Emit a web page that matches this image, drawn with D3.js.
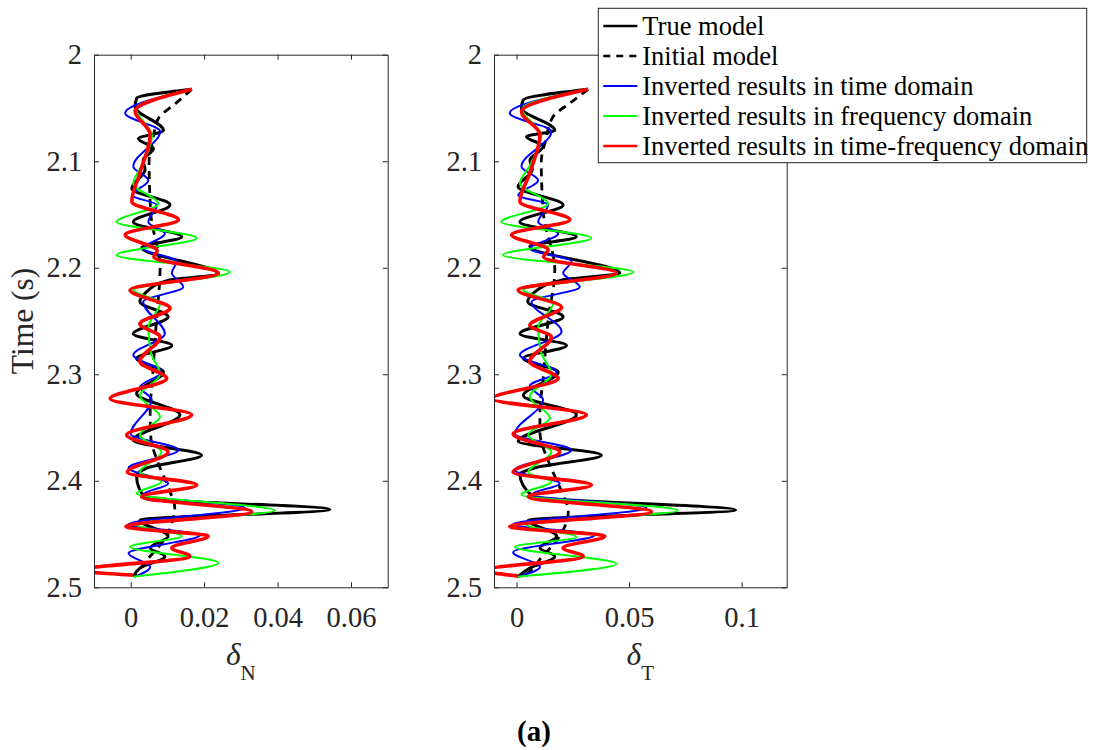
<!DOCTYPE html>
<html>
<head>
<meta charset="utf-8">
<script src="https://cdn.jsdelivr.net/npm/d3@7"></script>
<style>
  body { margin: 0; background: #fff; }
  svg { display: block; }
</style>
</head>
<body>
<script>
// Figure size
var width = 1106,
	height = 750;

// ---- data (time in s, value) ----
var yTicks = [2, 2.1, 2.2, 2.3, 2.4, 2.5];
var xTicksN = [0, 0.02, 0.04, 0.06];
var xTicksT = [0, 0.05, 0.1];

var legendLabels = ["True model", "Initial model", "Inverted results in time domain",
	"Inverted results in frequency domain", "Inverted results in time-frequency domain"];

// delta N
var nTrue = [[2.0325,0.0166],[2.041,0.0016],[2.049,0.0012],[2.071,0.0089],[2.079,0.0021],[2.088,0.0062],[2.099,0.0034],[2.108,0.0039],[2.1255,0.0003],[2.141,0.0107],[2.157,0.0007],[2.171,0.0139],[2.181,0.003],[2.206,0.0239],[2.2116,0.0103],[2.224,0.0039],[2.232,0.0025],[2.246,0.0102],[2.262,0.0007],[2.273,0.0112],[2.285,0.0016],[2.298,0.0089],[2.318,0.0016],[2.338,0.0134],[2.362,0.0007],[2.376,0.0193],[2.388,0.0044],[2.396,0.0016],[2.416,0.0039],[2.427,0.0542],[2.437,0.0025],[2.452,0.0102],[2.463,0.0053],[2.471,0.0093],[2.482,0.0025],[2.49,0.0007]];
var nInit = [[2.0325,0.0166],[2.045,0.0125],[2.06,0.0075],[2.08,0.006],[2.1,0.005],[2.15,0.0055],[2.2,0.008],[2.25,0.007],[2.3,0.006],[2.336,0.0053],[2.36,0.0055],[2.38,0.0071],[2.41,0.0107],[2.425,0.012],[2.44,0.0112],[2.455,0.0092],[2.47,0.0055],[2.49,0.0008]];
var nTime = [[2.0325,0.0166],[2.055,-0.0015],[2.072,0.008],[2.105,0.0007],[2.118,0.0048],[2.132,0.0003],[2.141,0.0071],[2.157,0.0048],[2.168,0.0093],[2.182,0.0034],[2.194,0.0125],[2.205,0.0112],[2.218,0.0143],[2.232,0.0034],[2.262,0.0093],[2.282,0.0007],[2.298,0.0084],[2.312,0.0025],[2.324,0.0057],[2.356,0.0],[2.371,0.013],[2.388,-0.0006],[2.4025,0.0102],[2.413,0.0034],[2.4255,0.0311],[2.441,-0.0006],[2.451,0.0189],[2.468,-0.0006],[2.481,0.0053],[2.49,0.0012]];
var nFreq = [[2.0325,0.0166],[2.051,0.0015],[2.076,0.0058],[2.104,0.003],[2.121,0.0007],[2.14,0.0075],[2.157,-0.0038],[2.172,0.018],[2.188,-0.0038],[2.204,0.027],[2.221,0.0007],[2.233,0.008],[2.256,0.0048],[2.28,0.0055],[2.3,0.008],[2.32,0.0025],[2.34,0.008],[2.357,0.0025],[2.373,0.0084],[2.392,0.0025],[2.401,0.0084],[2.412,0.0016],[2.428,0.0393],[2.441,0.0016],[2.452,0.0139],[2.462,-0.0002],[2.477,0.0239],[2.49,0.0007]];
var nTF = [[2.0325,0.0166],[2.053,0.0012],[2.075,0.0053],[2.111,0.0025],[2.138,0.0003],[2.155,0.013],[2.169,-0.0015],[2.184,0.0072],[2.19,0.0063],[2.205,0.0239],[2.221,-0.0002],[2.238,0.0107],[2.2525,0.0025],[2.265,0.008],[2.288,0.0025],[2.304,0.0098],[2.323,-0.0056],[2.338,0.0166],[2.357,-0.0011],[2.373,0.0102],[2.392,-0.0009],[2.404,0.018],[2.415,0.003],[2.429,0.0329],[2.443,-0.0013],[2.452,0.0211],[2.463,0.0112],[2.471,0.0161],[2.484,-0.0135],[2.4886,0.0006]];

// delta T
var tTrue = [[2.0325,0.0318],[2.0425,0.003],[2.05,0.0022],[2.071,0.017],[2.077,0.0044],[2.086,0.0118],[2.099,0.006],[2.108,0.007],[2.124,0.0007],[2.141,0.0207],[2.157,0.0015],[2.171,0.0266],[2.18,0.0059],[2.205,0.0459],[2.2116,0.02],[2.224,0.0074],[2.232,0.005],[2.246,0.0207],[2.262,0.0015],[2.273,0.0222],[2.285,0.003],[2.298,0.0185],[2.32,0.003],[2.338,0.0266],[2.363,0.0007],[2.376,0.0377],[2.388,0.008],[2.394,0.0015],[2.415,0.0074],[2.4275,0.0973],[2.437,0.0052],[2.452,0.0178],[2.463,0.0104],[2.471,0.017],[2.482,0.0059],[2.49,0.0007]];
var tInit = [[2.0325,0.0318],[2.045,0.024],[2.058,0.0163],[2.08,0.013],[2.1,0.011],[2.15,0.012],[2.202,0.017],[2.25,0.014],[2.3,0.012],[2.338,0.0104],[2.354,0.0104],[2.385,0.0148],[2.41,0.02],[2.429,0.023],[2.445,0.021],[2.46,0.0163],[2.47,0.0118],[2.485,0.006],[2.49,0.003]];
var tTime = [[2.0325,0.0318],[2.055,-0.003],[2.072,0.0155],[2.105,0.0022],[2.118,0.0096],[2.132,0.0007],[2.141,0.014],[2.157,0.0096],[2.168,0.0185],[2.182,0.0059],[2.194,0.0244],[2.205,0.0207],[2.218,0.0281],[2.232,0.0067],[2.26,0.02],[2.282,0.0015],[2.298,0.0178],[2.311,0.0059],[2.324,0.0118],[2.356,-0.0007],[2.371,0.0244],[2.39,-0.0007],[2.4025,0.0192],[2.413,0.0067],[2.4255,0.0577],[2.441,-0.0015],[2.451,0.0348],[2.467,-0.0015],[2.481,0.0104],[2.49,0.0007]];
var tFreq = [[2.0325,0.0318],[2.051,0.0025],[2.076,0.011],[2.104,0.006],[2.121,0.0015],[2.14,0.014],[2.157,-0.0067],[2.172,0.0333],[2.188,-0.006],[2.204,0.0518],[2.221,0.003],[2.233,0.0163],[2.256,0.0096],[2.28,0.011],[2.3,0.0155],[2.321,0.0059],[2.341,0.0148],[2.357,0.0052],[2.373,0.0155],[2.392,0.0052],[2.401,0.0155],[2.413,0.0022],[2.428,0.0717],[2.441,0.0044],[2.453,0.0266],[2.462,-0.0007],[2.478,0.0444],[2.49,0.0007]];
var tTF = [[2.0325,0.0318],[2.0535,0.0022],[2.075,0.0104],[2.111,0.0059],[2.138,0.0015],[2.155,0.0237],[2.169,-0.0022],[2.183,0.014],[2.19,0.012],[2.205,0.0444],[2.221,0.0007],[2.237,0.02],[2.254,0.0059],[2.265,0.0155],[2.288,0.0059],[2.304,0.0185],[2.323,-0.0105],[2.338,0.031],[2.356,-0.0015],[2.373,0.0192],[2.392,-0.0015],[2.404,0.0333],[2.415,0.0052],[2.429,0.0599],[2.443,-0.003],[2.452,0.0392],[2.463,0.0207],[2.471,0.0296],[2.484,-0.014],[2.4895,0.0007]];

// line styles, in legend order
var styles = [
	{color: "#000000", width: 3, dash: null},
	{color: "#000000", width: 2.8, dash: "8,6"},
	{color: "#0000ff", width: 2, dash: null},
	{color: "#00ff00", width: 2, dash: null},
	{color: "#ff0000", width: 3.6, dash: null}
];

var axisColor = "#262626";
var serif = "'Liberation Serif', 'Times New Roman', serif";

var svg = d3.select("body").append("svg")
	.attr("width", width)
	.attr("height", height);

var plotTop = 54.7, plotBottom = 587.3;

var panels = [
	{left: 94, right: 387.7, domain: [-0.01, 0.07], ticks: xTicksN, sub: "N",
		series: [nTrue, nInit, nTime, nFreq, nTF]},
	{left: 494, right: 786.7, domain: [-0.01, 0.12], ticks: xTicksT, sub: "T",
		series: [tTrue, tInit, tTime, tFreq, tTF]}
];

var y = d3.scaleLinear().domain([2, 2.5]).range([plotTop, plotBottom]);

panels.forEach(function(p, i) {
	var x = d3.scaleLinear().domain(p.domain).range([p.left, p.right]);
	var g = svg.append("g");

	g.append("clipPath").attr("id", "clip" + i)
		.append("rect")
		.attr("x", p.left).attr("y", plotTop)
		.attr("width", p.right - p.left).attr("height", plotBottom - plotTop);

	var line = d3.line()
		.x(function(d) { return x(d[1]); })
		.y(function(d) { return y(d[0]); })
		.curve(d3.curveMonotoneY);

	var plot = g.append("g").attr("clip-path", "url(#clip" + i + ")");
	p.series.forEach(function(s, k) {
		plot.append("path")
			.datum(s)
			.attr("d", line)
			.attr("fill", "none")
			.attr("stroke", styles[k].color)
			.attr("stroke-width", styles[k].width)
			.attr("stroke-dasharray", styles[k].dash)
			.attr("stroke-linejoin", "round");
	});

	// axes (MATLAB box with inward ticks)
	var fmt = function(d) { return String(d); };
	var xb = g.append("g")
		.attr("transform", "translate(0," + plotBottom + ")")
		.call(d3.axisBottom(x).tickValues(p.ticks).tickFormat(fmt)
			.tickSizeInner(-5).tickSizeOuter(0).tickPadding(19));
	var xt = g.append("g")
		.attr("transform", "translate(0," + plotTop + ")")
		.call(d3.axisTop(x).tickValues(p.ticks).tickFormat("")
			.tickSizeInner(-5).tickSizeOuter(0));
	var yl = g.append("g")
		.attr("transform", "translate(" + p.left + ",0)")
		.call(d3.axisLeft(y).tickValues(yTicks).tickFormat(fmt)
			.tickSizeInner(-5).tickSizeOuter(0).tickPadding(12));
	var yr = g.append("g")
		.attr("transform", "translate(" + p.right + ",0)")
		.call(d3.axisRight(y).tickValues(yTicks).tickFormat("")
			.tickSizeInner(-5).tickSizeOuter(0));

	[xb, xt, yl, yr].forEach(function(a) {
		a.attr("font-family", serif).attr("font-size", 28.5);
		a.selectAll("path, line").attr("stroke", axisColor).attr("stroke-width", 1);
		a.selectAll("text").attr("fill", axisColor);
	});

	// x label: delta with subscript
	var lab = g.append("text")
		.attr("x", (p.left + p.right) / 2)
		.attr("y", 665)
		.attr("text-anchor", "middle")
		.attr("font-family", serif)
		.attr("fill", axisColor);
	lab.append("tspan").attr("font-size", 31.5).attr("font-style", "italic").text("δ");
	lab.append("tspan").attr("font-size", 21).attr("dy", 15).text(p.sub);
});

// y label
svg.append("text")
	.attr("transform", "translate(33," + ((plotTop + plotBottom) / 2) + ") rotate(-90)")
	.attr("text-anchor", "middle")
	.attr("font-family", serif)
	.attr("font-size", 31.5)
	.attr("fill", axisColor)
	.text("Time (s)");

// legend
var legend = svg.append("g").attr("transform", "translate(598.3,8.3)");
legend.append("rect")
	.attr("width", 1086.7 - 598.3)
	.attr("height", 162.7 - 8.3)
	.attr("fill", "#fff")
	.attr("stroke", axisColor)
	.attr("stroke-width", 1);

legendLabels.forEach(function(name, k) {
	var cy = 17.7 + k * 30;
	legend.append("line")
		.attr("x1", 5).attr("x2", 39)
		.attr("y1", cy).attr("y2", cy)
		.attr("stroke", styles[k].color)
		.attr("stroke-width", Math.min(styles[k].width, 2.6))
		.attr("stroke-dasharray", k === 1 ? "7,6" : null);
	legend.append("text")
		.attr("x", 44)
		.attr("y", cy + 9)
		.attr("font-family", serif)
		.attr("font-size", 26.5)
		.attr("fill", "#000")
		.text(name);
});

// panel caption
svg.append("text")
	.attr("x", 534)
	.attr("y", 741)
	.attr("text-anchor", "middle")
	.attr("font-family", serif)
	.attr("font-weight", "bold")
	.attr("font-size", 29)
	.attr("fill", "#000")
	.text("(a)");
</script>
</body>
</html>
